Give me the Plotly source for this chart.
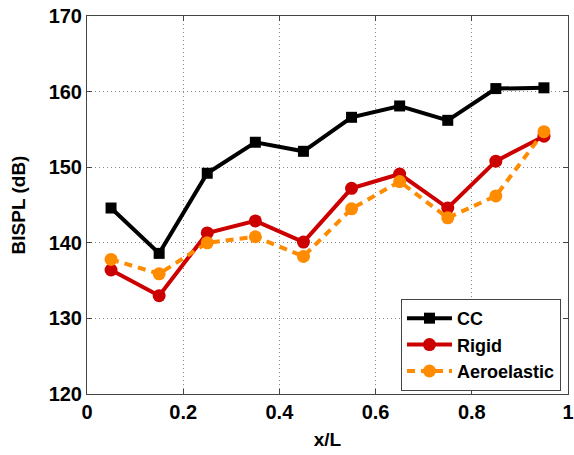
import plotly.graph_objects as go

x_pos = [0.05, 0.15, 0.25, 0.35, 0.45, 0.55, 0.65, 0.75, 0.85, 0.95]
cc = [144.6, 138.6, 149.2, 153.3, 152.1, 156.6, 158.1, 156.2, 160.4, 160.5]
rigid = [136.4, 133.0, 141.3, 142.9, 140.1, 147.2, 149.1, 144.6, 150.8, 154.1]
aero = [137.8, 135.9, 140.0, 140.8, 138.2, 144.5, 148.1, 143.3, 146.2, 154.7]

series_names = ["CC", "Rigid", "Aeroelastic"]
x_ticks = [0, 0.2, 0.4, 0.6, 0.8, 1]
x_tick_text = ["0", "0.2", "0.4", "0.6", "0.8", "1"]
y_ticks = [120, 130, 140, 150, 160, 170]

FONT = "Liberation Sans, Arial, sans-serif"

fig = go.Figure()
fig.add_trace(go.Scatter(x=x_pos, y=cc, name=series_names[0], mode="lines+markers",
                         line=dict(color="black", width=4),
                         marker=dict(symbol="square", size=11, color="black")))
fig.add_trace(go.Scatter(x=x_pos, y=rigid, name=series_names[1], mode="lines+markers",
                         line=dict(color="#cc0000", width=4),
                         marker=dict(symbol="circle", size=13, color="#cc0000")))
fig.add_trace(go.Scatter(x=x_pos, y=aero, name=series_names[2], mode="lines+markers",
                         line=dict(color="#ff8c00", width=4, dash="8px,6px"),
                         marker=dict(symbol="circle", size=13, color="#ff8c00")))

axis_common = dict(
    showline=True, linecolor="#444444", linewidth=1, mirror="ticks",
    ticks="inside", ticklen=5, tickcolor="#444444",
    showgrid=True, gridcolor="#888888", griddash="1px,3px", gridwidth=1,
    zeroline=False, automargin=False, ticklabeloverflow="allow",
    tickfont=dict(family=FONT, size=20, color="black", weight="bold"),
)

fig.update_layout(
    template="none",
    width=574, height=455,
    margin=dict(l=87, r=6, t=16, b=61),
    paper_bgcolor="white", plot_bgcolor="white",
    font=dict(family=FONT, color="black"),
    xaxis=dict(range=[0, 1], tickvals=x_ticks, ticktext=x_tick_text,
               title=dict(text="x/L", font=dict(family=FONT, size=19, weight="bold"), standoff=10),
               **axis_common),
    yaxis=dict(range=[120, 170], tickvals=y_ticks,
               title=dict(text="BISPL (dB)", font=dict(family=FONT, size=19, weight="bold"), standoff=17),
               **axis_common),
    legend=dict(x=0.9854, y=0.008, xanchor="right", yanchor="bottom",
                bgcolor="white", bordercolor="#444444", borderwidth=1,
                font=dict(family=FONT, size=18, color="black", weight="bold"),
                tracegroupgap=0, itemwidth=45),
    showlegend=True,
)

# remove the default 8px page margin so the figure fills the 574x455 window exactly
fig.write_html("out.html",
               config={"displayModeBar": False},
               post_script="document.body.style.margin='0';document.body.style.overflow='hidden';")
